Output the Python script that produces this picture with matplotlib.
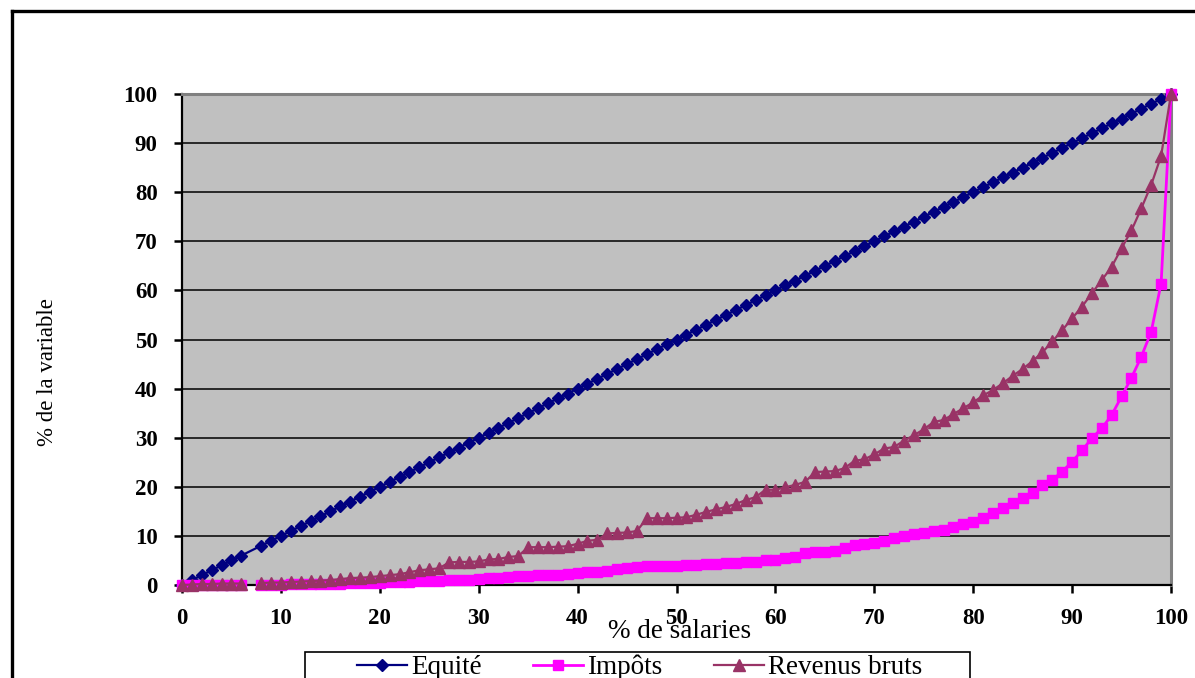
import numpy as np
import matplotlib
matplotlib.use("Agg")
import matplotlib.pyplot as plt
from matplotlib.lines import Line2D
from matplotlib.patches import Rectangle

nan = np.nan

# ---- data ----
x_pct = [0, 1, 2, 3, 4, 5, 6, 7, 8, 9, 10, 11, 12, 13, 14, 15, 16, 17, 18, 19,
         20, 21, 22, 23, 24, 25, 26, 27, 28, 29, 30, 31, 32, 33, 34, 35, 36, 37, 38, 39,
         40, 41, 42, 43, 44, 45, 46, 47, 48, 49, 50, 51, 52, 53, 54, 55, 56, 57, 58, 59,
         60, 61, 62, 63, 64, 65, 66, 67, 68, 69, 70, 71, 72, 73, 74, 75, 76, 77, 78, 79,
         80, 81, 82, 83, 84, 85, 86, 87, 88, 89, 90, 91, 92, 93, 94, 95, 96, 97, 98, 99, 100]

equite_x = [0, 1, 2, 3, 4, 5, 6, 8, 9, 10, 11, 12, 13, 14, 15, 16, 17, 18, 19,
            20, 21, 22, 23, 24, 25, 26, 27, 28, 29, 30, 31, 32, 33, 34, 35, 36, 37, 38, 39,
            40, 41, 42, 43, 44, 45, 46, 47, 48, 49, 50, 51, 52, 53, 54, 55, 56, 57, 58, 59,
            60, 61, 62, 63, 64, 65, 66, 67, 68, 69, 70, 71, 72, 73, 74, 75, 76, 77, 78, 79,
            80, 81, 82, 83, 84, 85, 86, 87, 88, 89, 90, 91, 92, 93, 94, 95, 96, 97, 98, 99, 100]
equite = [0, 1, 2, 3, 4, 5, 6, 8, 9, 10, 11, 12, 13, 14, 15, 16, 17, 18, 19,
          20, 21, 22, 23, 24, 25, 26, 27, 28, 29, 30, 31, 32, 33, 34, 35, 36, 37, 38, 39,
          40, 41, 42, 43, 44, 45, 46, 47, 48, 49, 50, 51, 52, 53, 54, 55, 56, 57, 58, 59,
          60, 61, 62, 63, 64, 65, 66, 67, 68, 69, 70, 71, 72, 73, 74, 75, 76, 77, 78, 79,
          80, 81, 82, 83, 84, 85, 86, 87, 88, 89, 90, 91, 92, 93, 94, 95, 96, 97, 98, 99, 100]

impots = [0, 0, 0, 0, 0, 0.1, 0.1, nan, 0.1, 0.1, 0.1, 0.2, 0.2, 0.2, 0.3, 0.3, 0.3, 0.4, 0.4, 0.5,
          0.5, 0.6, 0.7, 0.7, 0.8, 0.8, 0.9, 1.0, 1.0, 1.1, 1.3, 1.4, 1.5, 1.6, 1.8, 1.9, 2.0, 2.0, 2.1, 2.3,
          2.5, 2.6, 2.7, 2.9, 3.2, 3.4, 3.6, 3.8, 3.9, 3.9, 3.9, 4.0, 4.0, 4.2, 4.3, 4.4, 4.5, 4.6, 4.7, 5.0,
          5.1, 5.6, 5.8, 6.5, 6.7, 6.8, 6.9, 7.6, 8.2, 8.4, 8.6, 8.9, 9.5, 9.9, 10.4, 10.6, 10.9, 11.2, 11.9, 12.4,
          12.9, 13.7, 14.6, 15.6, 16.6, 17.7, 18.7, 20.4, 21.4, 23.1, 25.1, 27.4, 29.9, 31.9, 34.6, 38.4, 42.2, 46.5, 51.6, 61.4, 100]

revenus = [0, 0.1, 0.2, 0.2, 0.3, 0.3, 0.3, nan, 0.4, 0.5, 0.5, 0.6, 0.7, 0.8, 0.9, 1.0, 1.2, 1.4, 1.5, 1.6,
           1.8, 2.0, 2.2, 2.6, 3.0, 3.2, 3.4, 4.6, 4.7, 4.7, 4.8, 5.2, 5.3, 5.7, 5.9, 7.7, 7.7, 7.7, 7.8, 7.9,
           8.4, 9.0, 9.2, 10.5, 10.6, 10.7, 11.0, 13.6, 13.6, 13.6, 13.7, 13.8, 14.3, 14.9, 15.4, 15.9, 16.5, 17.3, 17.9, 19.4,
           19.4, 19.9, 20.4, 21.0, 23.0, 23.1, 23.2, 23.8, 25.3, 25.6, 26.6, 27.8, 28.1, 29.4, 30.5, 31.7, 33.2, 33.6, 34.8, 36.0,
           37.2, 38.6, 39.7, 41.1, 42.6, 44.0, 45.6, 47.4, 49.6, 51.9, 54.3, 56.7, 59.4, 62.1, 64.8, 68.6, 72.2, 76.7, 81.5, 87.4, 100]

xticks = [0, 10, 20, 30, 40, 50, 60, 70, 80, 90, 100]
yticks = [0, 10, 20, 30, 40, 50, 60, 70, 80, 90, 100]
series_names = ["Equité", "Impôts", "Revenus bruts"]
colors = ["#000080", "#FF00FF", "#993366"]

# ---- figure ----
W, H = 1195, 678
fig = plt.figure(figsize=(W / 100, H / 100), dpi=100)
fig.patch.set_facecolor("white")

ax = fig.add_axes([182 / W, 1 - 585 / H, (1171 - 182) / W, (585 - 94) / H])
ax.set_facecolor("#C0C0C0")
ax.set_xlim(0, 100)
ax.set_ylim(0, 100)

for yv in yticks[1:-1]:
    ax.axhline(yv, color="black", lw=1.1, zorder=1)

l1, = ax.plot(equite_x, equite, color=colors[0], lw=1.6, marker="D", ms=6.5,
              mec=colors[0], mfc=colors[0], clip_on=False, zorder=3)
l2, = ax.plot(x_pct, impots, color=colors[1], lw=2.0, marker="s", ms=7.5,
              mec=colors[1], mfc=colors[1], clip_on=False, zorder=4)
l3, = ax.plot(x_pct, revenus, color=colors[2], lw=1.6, marker="^", ms=8,
              mec=colors[2], mfc=colors[2], clip_on=False, zorder=5)

for s in ["top", "right"]:
    ax.spines[s].set_color("#808080")
    ax.spines[s].set_linewidth(2.2)
for s in ["left", "bottom"]:
    ax.spines[s].set_color("black")
    ax.spines[s].set_linewidth(1.6)

tick_font = dict(family="Liberation Serif", weight="bold", size=16.5)
ax.set_xticks(xticks)
ax.set_yticks(yticks)
ax.set_xticklabels([str(v) for v in xticks], fontdict=tick_font)
ax.set_yticklabels([str(v) for v in yticks], fontdict=tick_font)
ax.tick_params(axis="both", direction="out", length=5.5, width=1.8, color="black")
ax.tick_params(axis="x", pad=11)
ax.tick_params(axis="y", pad=12)

fig.text(48 / W, 1 - 372 / H, "% de la variable", rotation=90, ha="center", va="center",
         family="Liberation Serif", size=16.5)
fig.text(680 / W, 1 - 631 / H, "% de salaries", ha="center", va="center",
         family="Liberation Serif", size=19.5)

# outer chart frame (left and top edges visible)
fig.add_artist(Line2D([12 / W, 12 / W], [0, 1 - 11 / H], transform=fig.transFigure,
                      color="black", lw=2.4))
fig.add_artist(Line2D([12 / W, 1], [1 - 11 / H, 1 - 11 / H], transform=fig.transFigure,
                      color="black", lw=2.4))

# legend box (extends below the figure edge, as in the reference)
fig.add_artist(Rectangle((305 / W, -0.05), (970 - 305) / W, (1 - 652 / H) + 0.05,
                         transform=fig.transFigure, facecolor="white",
                         edgecolor="black", lw=1.2, zorder=2))

leg = fig.legend([l1, l2, l3], series_names, loc="upper left",
                 bbox_to_anchor=(357 / W, 1 - 655 / H), ncol=3, frameon=False,
                 prop=dict(family="Liberation Serif", size=19.5),
                 handlelength=1.85, handletextpad=0.15, columnspacing=1.9,
                 borderpad=0, borderaxespad=0)
leg.set_zorder(3)

fig.savefig("out.png", dpi=100)
